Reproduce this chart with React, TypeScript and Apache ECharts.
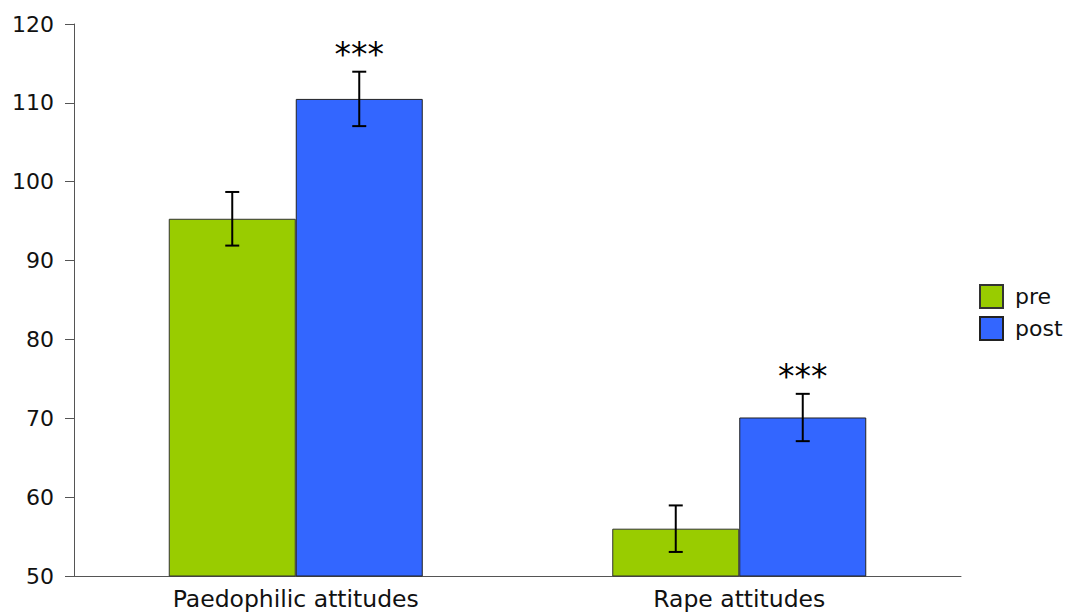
import React, { useEffect, useRef } from "react";
import * as echarts from "echarts";

// datos
const categories = ["Paedophilic attitudes", "Rape attitudes"];
const preValues = [95.3, 56.0];
const postValues = [110.5, 70.1];
const preErrors = [3.4, 2.95];
const postErrors = [3.45, 3.0];
const postStars = ["***", "***"];
const yTicks = { min: 50, max: 120, interval: 10 };

const FONT = "DejaVu Sans";
const BAR_WIDTH = 127;

const App: React.FC = () => {
  const chartRef = useRef<HTMLDivElement>(null);

  useEffect(() => {
    if (!chartRef.current) return;
    const chart = echarts.init(chartRef.current, null, { renderer: "svg" });

    // barras de error (y estrellas) dibujadas con una serie custom
    const errorSeries = (values: number[], errors: number[], offset: number, stars?: string[]) => ({
      type: "custom",
      silent: true,
      z: 10,
      data: values.map((v, i) => [i, v, errors[i]]),
      renderItem: (params: any, api: any) => {
        const idx = api.value(0);
        const val = api.value(1);
        const err = api.value(2);
        const hi = api.coord([idx, val + err]);
        const lo = api.coord([idx, val - err]);
        const x = hi[0] + offset;
        const cap = 7;
        const style = { stroke: "#000", lineWidth: 2 };
        const children: any[] = [
          { type: "line", shape: { x1: x, y1: hi[1], x2: x, y2: lo[1] }, style },
          { type: "line", shape: { x1: x - cap, y1: hi[1], x2: x + cap, y2: hi[1] }, style },
          { type: "line", shape: { x1: x - cap, y1: lo[1], x2: x + cap, y2: lo[1] }, style },
        ];
        if (stars) {
          children.push({
            type: "text",
            style: {
              text: stars[params.dataIndex],
              x,
              y: hi[1] - 1,
              align: "center",
              verticalAlign: "bottom",
              fontFamily: FONT,
              fontSize: 33,
              fill: "#000",
            },
          });
        }
        return { type: "group", children };
      },
    });

    chart.setOption({
      animation: false,
      textStyle: { fontFamily: FONT },
      grid: { left: 74, right: 110, top: 24, bottom: 36 },
      legend: {
        orient: "vertical",
        left: 979,
        top: 284,
        padding: 0,
        icon: "rect",
        itemWidth: 23,
        itemHeight: 23,
        itemGap: 7,
        data: ["pre", "post"],
        textStyle: { fontFamily: FONT, fontSize: 22, color: "#111", padding: [0, 0, 0, 7] },
      },
      xAxis: {
        type: "category",
        data: categories,
        axisLine: { lineStyle: { color: "#555", width: 1 } },
        axisTick: { length: 9, lineStyle: { color: "#555" } },
        axisLabel: { fontFamily: FONT, fontSize: 23.5, color: "#111", margin: 11 },
      },
      yAxis: {
        type: "value",
        min: yTicks.min,
        max: yTicks.max,
        interval: yTicks.interval,
        splitLine: { show: false },
        axisLine: { show: true, lineStyle: { color: "#555", width: 1 } },
        axisTick: { show: true, length: 9, lineStyle: { color: "#555" } },
        axisLabel: { fontFamily: FONT, fontSize: 22, color: "#111", margin: 20 },
      },
      series: [
        {
          name: "pre",
          type: "bar",
          data: preValues,
          barWidth: BAR_WIDTH,
          barGap: "0%",
          itemStyle: { color: "#99cc00", borderColor: "#333", borderWidth: 1 },
        },
        {
          name: "post",
          type: "bar",
          data: postValues,
          barWidth: BAR_WIDTH,
          barGap: "0%",
          itemStyle: { color: "#3366ff", borderColor: "#222", borderWidth: 1 },
        },
        errorSeries(preValues, preErrors, -BAR_WIDTH / 2),
        errorSeries(postValues, postErrors, BAR_WIDTH / 2, postStars),
      ],
    });

    return () => {
      chart.dispose();
    };
  }, []);

  return (
    <div
      ref={chartRef}
      style={{ position: "absolute", left: 0, top: 0, width: 1071, height: 612 }}
    />
  );
};

export default App;
